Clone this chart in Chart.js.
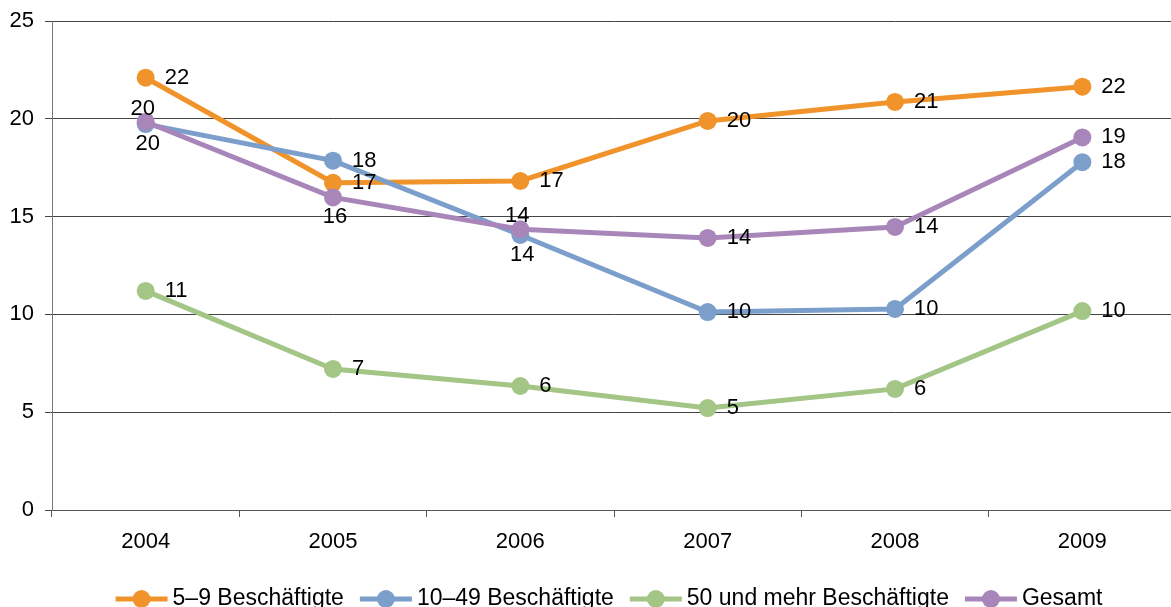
<!DOCTYPE html>
<html>
<head>
<meta charset="utf-8">
<script src="https://cdn.jsdelivr.net/npm/chart.js@4"></script>
<style>
  html, body { margin:0; padding:0; background:#fff; overflow:hidden; }
  canvas { display:block; }
</style>
</head>
<body>
<canvas id="chart" width="1185" height="615"></canvas>
<script>
// data
const years = ["2004", "2005", "2006", "2007", "2008", "2009"];
const klein  = [22.1, 16.73, 16.82, 19.89, 20.86, 21.64];   // 5–9 Beschäftigte
const mittel = [19.73, 17.86, 14.06, 10.12, 10.28, 17.78];  // 10–49 Beschäftigte
const gross  = [11.2, 7.21, 6.34, 5.21, 6.19, 10.17];       // 50 und mehr Beschäftigte
const gesamt = [19.85, 15.98, 14.35, 13.91, 14.47, 19.05];  // Gesamt
const yTicks = [0, 5, 10, 15, 20, 25];

const seriesNames = ["5–9 Beschäftigte", "10–49 Beschäftigte", "50 und mehr Beschäftigte", "Gesamt"];
const colors = ["#F0932A", "#7B9ECB", "#A3C586", "#A886B9"];

// where each value label sits relative to its point: r = right, t = above, b = below
const labelPos = [
  ["r", "r", "r", "r", "r", "r"],
  ["b", "r", "b", "r", "r", "r"],
  ["r", "r", "r", "r", "r", "r"],
  ["t", "b", "t", "r", "r", "r"]
];

const FAMILY = "'Liberation Sans', Arial, sans-serif";
const FONT = "22px " + FAMILY;
const LEGEND_FONT = "23px " + FAMILY;

// value labels, drawn on top of all lines
const valueLabels = {
  id: "valueLabels",
  afterDatasetsDraw(chart){
    const ctx = chart.ctx;
    ctx.save();
    ctx.font = FONT;
    ctx.fillStyle = "#000";
    ctx.textBaseline = "middle";
    chart.data.datasets.forEach((ds, di)=>{
      const meta = chart.getDatasetMeta(di);
      meta.data.forEach((pt, i)=>{
        const txt = String(Math.round(ds.data[i]));
        const pos = labelPos[di][i];
        if(pos === "r"){
          ctx.textAlign = "left";
          ctx.fillText(txt, pt.x + 19, pt.y);
        }else if(pos === "t"){
          ctx.textAlign = "center";
          ctx.fillText(txt, pt.x - 3, pt.y - 13);
        }else{
          ctx.textAlign = "center";
          ctx.fillText(txt, pt.x + 2, pt.y + 20);
        }
      });
    });
    ctx.restore();
  }
};

// legend: line with a dot, then the name, all items centred under the plot
const lineLegend = {
  id: "lineLegend",
  afterDraw(chart){
    const ctx = chart.ctx;
    ctx.save();
    ctx.font = LEGEND_FONT;
    const sym = 52, gap = 5, between = 16;
    const widths = seriesNames.map(n => ctx.measureText(n).width);
    const total = widths.reduce((a,w)=>a + sym + gap + w, 0) + between * (seriesNames.length - 1);
    let x = (chart.chartArea.left + chart.chartArea.right) / 2 - total / 2 - 5;
    const y = 599;
    seriesNames.forEach((n, i)=>{
      ctx.strokeStyle = colors[i];
      ctx.lineWidth = 5;
      ctx.beginPath();
      ctx.moveTo(x, y);
      ctx.lineTo(x + sym, y);
      ctx.stroke();
      ctx.fillStyle = colors[i];
      ctx.beginPath();
      ctx.arc(x + sym / 2, y, 9, 0, Math.PI * 2);
      ctx.fill();
      ctx.fillStyle = "#000";
      ctx.textAlign = "left";
      ctx.textBaseline = "middle";
      ctx.fillText(n, x + sym + gap, y);
      x += sym + gap + widths[i] + between;
    });
    ctx.restore();
  }
};

const allSeries = [klein, mittel, gross, gesamt];
const drawOrder = [4, 3, 2, 1];

new Chart(document.getElementById("chart"), {
  type: "line",
  data: {
    labels: years,
    datasets: allSeries.map((vals, i)=>({
      label: seriesNames[i],
      data: vals,
      borderColor: colors[i],
      backgroundColor: colors[i],
      borderWidth: 5,
      pointRadius: 9,
      pointHoverRadius: 9,
      pointBorderWidth: 0,
      tension: 0,
      order: drawOrder[i]
    }))
  },
  options: {
    responsive: false,
    animation: false,
    devicePixelRatio: 1,
    layout: { padding: { top: 21, right: 0, bottom: 0, left: 0 } },
    plugins: { legend: { display: false }, tooltip: { enabled: false } },
    scales: {
      x: {
        offset: true,
        grid: { offset: true, drawOnChartArea: false, drawTicks: true, tickLength: 7, color: "#555", lineWidth: 1 },
        border: { display: true, color: "#555", width: 1 },
        ticks: { color: "#000", font: { family: FAMILY, size: 22 }, padding: 12, maxRotation: 0 },
        afterFit(scale){ scale.height = 105; }
      },
      y: {
        min: 0, max: 25,
        afterBuildTicks(scale){ scale.ticks = yTicks.map(v=>({ value: v })); },
        grid: { color: "#444", lineWidth: 1, tickLength: 7, drawTicks: true },
        border: { display: true, color: "#777", width: 1 },
        ticks: { color: "#000", font: { family: FAMILY, size: 22 }, padding: 11 },
        afterFit(scale){ scale.width = 52; scale.paddingTop = 0; }
      }
    }
  },
  plugins: [valueLabels, lineLegend]
});
</script>
</body>
</html>
